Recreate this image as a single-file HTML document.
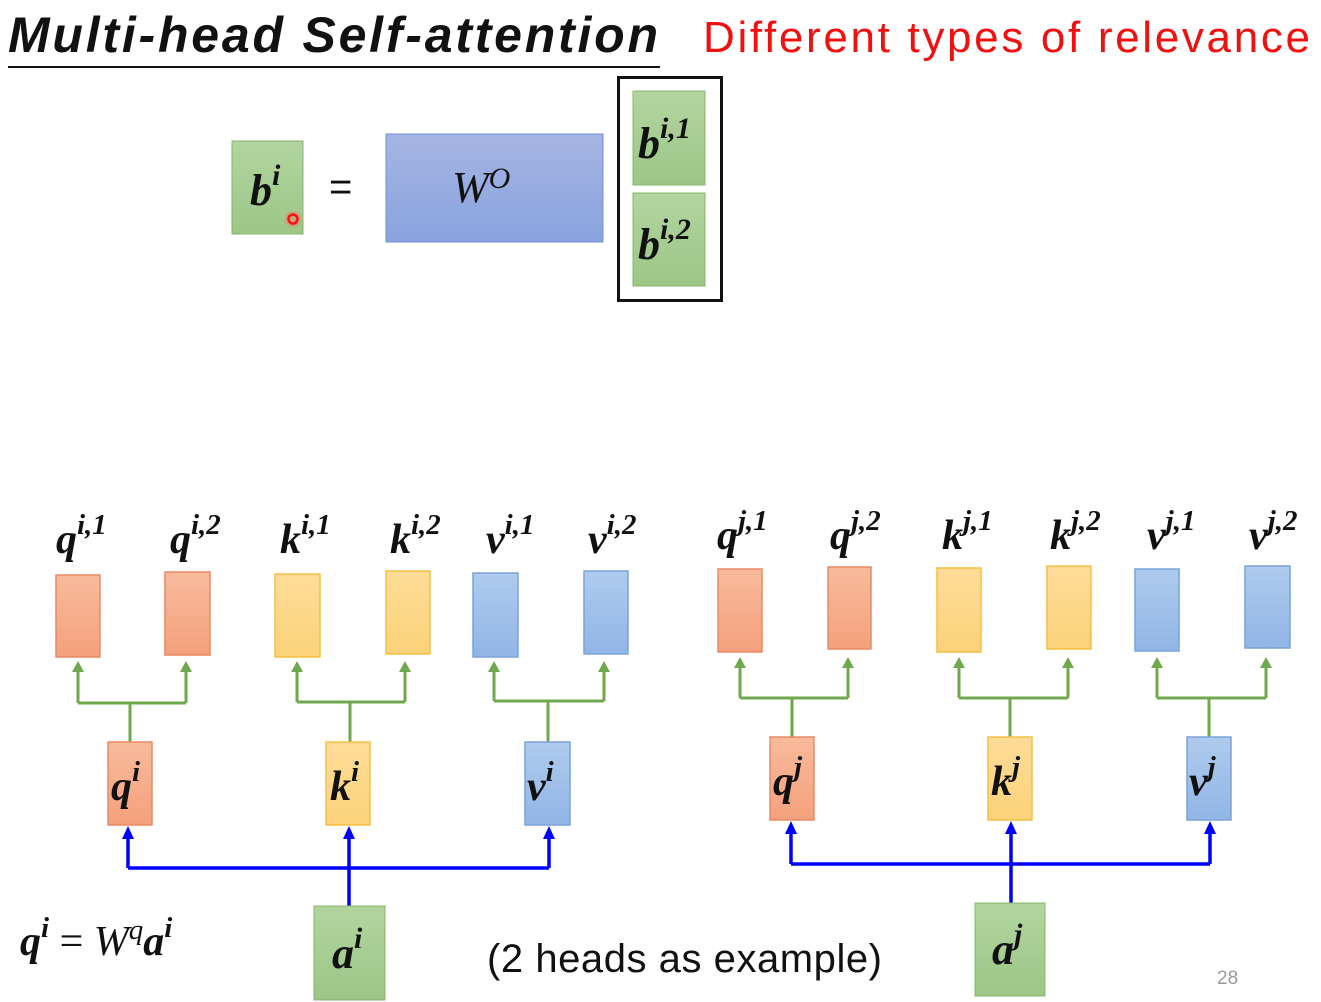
<!DOCTYPE html>
<html><head><meta charset="utf-8"><style>
html,body{margin:0;padding:0;background:#fff;}
svg{display:block;}
.m{font-family:"Liberation Serif",serif;font-weight:bold;font-style:italic;fill:#111;}
</style></head><body>
<svg width="1321" height="1002" viewBox="0 0 1321 1002" xmlns="http://www.w3.org/2000/svg">
<defs>
<linearGradient id="go" x1="0" y1="0" x2="0" y2="1"><stop offset="0" stop-color="#f8bb9c"/><stop offset="1" stop-color="#f5a07c"/></linearGradient>
<linearGradient id="gy" x1="0" y1="0" x2="0" y2="1"><stop offset="0" stop-color="#fedc98"/><stop offset="1" stop-color="#fcd27a"/></linearGradient>
<linearGradient id="gb" x1="0" y1="0" x2="0" y2="1"><stop offset="0" stop-color="#afcbee"/><stop offset="1" stop-color="#91b5e6"/></linearGradient>
<linearGradient id="gg" x1="0" y1="0" x2="0" y2="1"><stop offset="0" stop-color="#b2d5a0"/><stop offset="1" stop-color="#9cc686"/></linearGradient>
<linearGradient id="gw" x1="0" y1="0" x2="0" y2="1"><stop offset="0" stop-color="#a6b5e4"/><stop offset="1" stop-color="#89a2de"/></linearGradient>
<marker id="ag" markerWidth="8" markerHeight="8" refX="4" refY="4" orient="auto" markerUnits="userSpaceOnUse"><path d="M0,0 L8,4 L0,8 z" fill="#70a84e"/></marker>
<marker id="ab" markerWidth="8" markerHeight="10" refX="4" refY="5" orient="auto" markerUnits="userSpaceOnUse"><path d="M0,0 L10,5 L0,10 z" fill="#0000ff"/></marker>
</defs>

<!-- title -->
<text x="8" y="52" font-family="Liberation Sans,sans-serif" font-weight="bold" font-style="italic" font-size="50" fill="#111" textLength="650">Multi-head Self-attention</text>
<line x1="8" y1="67" x2="660" y2="67" stroke="#111" stroke-width="2"/>
<text x="703" y="52" font-family="Liberation Sans,sans-serif" font-size="44" fill="#f01010" textLength="607">Different types of relevance</text>

<!-- top equation -->
<rect x="232" y="141" width="71" height="93" fill="url(#gg)" stroke="#86b46c"/>
<text x="250" y="205" class="m" font-size="44">b<tspan font-size="30" dy="-20">i</tspan></text>
<circle cx="293" cy="219" r="8" fill="#ff6060" opacity="0.35"/>
<circle cx="293" cy="219" r="4.5" fill="none" stroke="#ff1010" stroke-width="2.5"/>
<text x="329" y="200" font-family="Liberation Sans,sans-serif" font-size="40" fill="#111">=</text>
<rect x="386" y="134" width="217" height="108" fill="url(#gw)" stroke="#7191d2"/>
<text x="452" y="202" font-family="Liberation Serif,serif" font-style="italic" font-size="44" fill="#111">W<tspan font-size="30" dy="-14">O</tspan></text>
<rect x="618.5" y="77.5" width="103" height="223" fill="none" stroke="#111" stroke-width="3"/>
<rect x="633" y="91" width="72" height="94" fill="url(#gg)" stroke="#86b46c"/>
<text x="638" y="158" class="m" font-size="44">b<tspan font-size="30" dy="-20">i,1</tspan></text>
<rect x="633" y="193" width="72" height="93" fill="url(#gg)" stroke="#86b46c"/>
<text x="638" y="259" class="m" font-size="44">b<tspan font-size="30" dy="-20">i,2</tspan></text>

<!-- top row boxes left -->
<g stroke-width="1.5">
<rect x="56" y="575" width="44" height="82" fill="url(#go)" stroke="#e98a64"/>
<rect x="165" y="572" width="45" height="83" fill="url(#go)" stroke="#e98a64"/>
<rect x="275" y="574" width="45" height="83" fill="url(#gy)" stroke="#f3c043"/>
<rect x="386" y="571" width="44" height="83" fill="url(#gy)" stroke="#f3c043"/>
<rect x="473" y="573" width="45" height="84" fill="url(#gb)" stroke="#7aa3d8"/>
<rect x="584" y="571" width="44" height="83" fill="url(#gb)" stroke="#7aa3d8"/>
<rect x="718" y="569" width="44" height="83" fill="url(#go)" stroke="#e98a64"/>
<rect x="828" y="567" width="43" height="82" fill="url(#go)" stroke="#e98a64"/>
<rect x="937" y="568" width="44" height="84" fill="url(#gy)" stroke="#f3c043"/>
<rect x="1047" y="566" width="44" height="83" fill="url(#gy)" stroke="#f3c043"/>
<rect x="1135" y="569" width="44" height="82" fill="url(#gb)" stroke="#7aa3d8"/>
<rect x="1245" y="566" width="45" height="82" fill="url(#gb)" stroke="#7aa3d8"/>
</g>

<!-- top labels -->
<g class="m" font-size="42">
<text x="56" y="553">q<tspan font-size="29" dy="-19">i,1</tspan></text>
<text x="170" y="553">q<tspan font-size="29" dy="-19">i,2</tspan></text>
<text x="280" y="553">k<tspan font-size="29" dy="-19">i,1</tspan></text>
<text x="390" y="553">k<tspan font-size="29" dy="-19">i,2</tspan></text>
<text x="486" y="553">v<tspan font-size="29" dy="-19">i,1</tspan></text>
<text x="588" y="553">v<tspan font-size="29" dy="-19">i,2</tspan></text>
<text x="717" y="549">q<tspan font-size="29" dy="-19">j,1</tspan></text>
<text x="830" y="549">q<tspan font-size="29" dy="-19">j,2</tspan></text>
<text x="942" y="549">k<tspan font-size="29" dy="-19">j,1</tspan></text>
<text x="1050" y="549">k<tspan font-size="29" dy="-19">j,2</tspan></text>
<text x="1147" y="549">v<tspan font-size="29" dy="-19">j,1</tspan></text>
<text x="1249" y="549">v<tspan font-size="29" dy="-19">j,2</tspan></text>
</g>

<!-- green connectors -->
<g stroke="#70a84e" stroke-width="3" fill="none">
<path d="M130,742 V703 M78,703 H186 M78,703 V668 M186,703 V668" />
<path d="M350,742 V702 M297,702 H405 M297,702 V668 M405,702 V668"/>
<path d="M548,742 V701 M494,701 H604 M494,701 V668 M604,701 V668"/>
<path d="M792,737 V698 M740,698 H848 M740,698 V664 M848,698 V664"/>
<path d="M1010,737 V698 M959,698 H1068 M959,698 V664 M1068,698 V664"/>
<path d="M1209,737 V698 M1157,698 H1266 M1157,698 V664 M1266,698 V664"/>
</g>
<g fill="#70a84e">
<path d="M72,672 L78,661 L84,672 z"/><path d="M180,672 L186,661 L192,672 z"/>
<path d="M291,672 L297,661 L303,672 z"/><path d="M399,672 L405,661 L411,672 z"/>
<path d="M488,672 L494,661 L500,672 z"/><path d="M598,672 L604,661 L610,672 z"/>
<path d="M734,668 L740,657 L746,668 z"/><path d="M842,668 L848,657 L854,668 z"/>
<path d="M953,668 L959,657 L965,668 z"/><path d="M1062,668 L1068,657 L1074,668 z"/>
<path d="M1151,668 L1157,657 L1163,668 z"/><path d="M1260,668 L1266,657 L1272,668 z"/>
</g>

<!-- middle boxes -->
<g stroke-width="1.5">
<rect x="108" y="742" width="44" height="83" fill="url(#go)" stroke="#e98a64"/>
<rect x="326" y="742" width="44" height="83" fill="url(#gy)" stroke="#f3c043"/>
<rect x="525" y="742" width="45" height="83" fill="url(#gb)" stroke="#7aa3d8"/>
<rect x="770" y="737" width="44" height="83" fill="url(#go)" stroke="#e98a64"/>
<rect x="988" y="737" width="44" height="83" fill="url(#gy)" stroke="#f3c043"/>
<rect x="1187" y="737" width="44" height="83" fill="url(#gb)" stroke="#7aa3d8"/>
</g>
<g class="m" font-size="42">
<text x="111" y="800">q<tspan font-size="29" dy="-19">i</tspan></text>
<text x="330" y="800">k<tspan font-size="29" dy="-19">i</tspan></text>
<text x="527" y="800">v<tspan font-size="29" dy="-19">i</tspan></text>
<text x="773" y="795">q<tspan font-size="29" dy="-19">j</tspan></text>
<text x="991" y="795">k<tspan font-size="29" dy="-19">j</tspan></text>
<text x="1189" y="795">v<tspan font-size="29" dy="-19">j</tspan></text>
</g>

<!-- blue connectors -->
<g stroke="#0000ff" stroke-width="3.5" fill="none">
<path d="M128,868 H549 M128,868 V835 M349,906 V835 M549,868 V835"/>
<path d="M791,864 H1210 M791,864 V830 M1011,903 V830 M1210,864 V830"/>
</g>
<g fill="#0000ff">
<path d="M122,839 L128,826 L134,839 z"/><path d="M343,839 L349,826 L355,839 z"/><path d="M543,839 L549,826 L555,839 z"/>
<path d="M785,834 L791,821 L797,834 z"/><path d="M1005,834 L1011,821 L1017,834 z"/><path d="M1204,834 L1210,821 L1216,834 z"/>
</g>

<!-- a boxes -->
<rect x="314" y="906" width="71" height="94" fill="url(#gg)" stroke="#86b46c"/>
<text x="332" y="968" class="m" font-size="44">a<tspan font-size="30" dy="-20">i</tspan></text>
<rect x="975" y="903" width="70" height="93" fill="url(#gg)" stroke="#86b46c"/>
<text x="992" y="964" class="m" font-size="44">a<tspan font-size="30" dy="-20">j</tspan></text>

<!-- formula -->
<text x="20" y="955" font-family="Liberation Serif,serif" font-size="42" fill="#111"><tspan font-weight="bold" font-style="italic">q</tspan><tspan font-weight="bold" font-style="italic" font-size="29" dy="-18">i</tspan><tspan dy="18"> = </tspan><tspan font-style="italic">W</tspan><tspan font-style="italic" font-size="29" dy="-16">q</tspan><tspan font-weight="bold" font-style="italic" dy="16">a</tspan><tspan font-weight="bold" font-style="italic" font-size="29" dy="-18">i</tspan></text>

<text x="487" y="972" font-family="Liberation Sans,sans-serif" font-size="40" fill="#111" textLength="395">(2 heads as example)</text>
<text x="1217" y="984" font-family="Liberation Sans,sans-serif" font-size="19" fill="#999">28</text>
</svg>
</body></html>
